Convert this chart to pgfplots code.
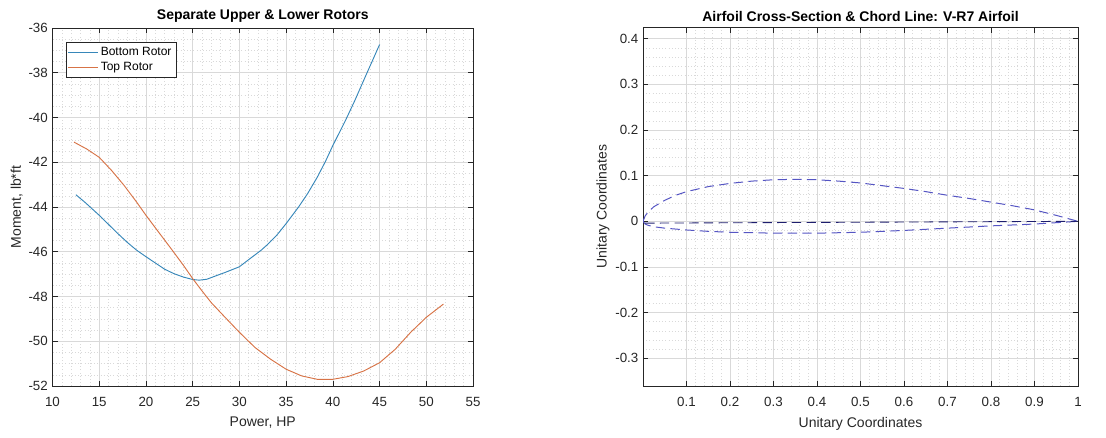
\documentclass[border=0pt]{standalone}
\usepackage{pgfplots}
\pgfplotsset{compat=1.18}
\usepackage{fontspec}
\setmainfont{Liberation Sans}
\definecolor{mblue}{RGB}{55,135,185}
\definecolor{morange}{RGB}{215,115,70}
\definecolor{axgray}{RGB}{38,38,38}
\definecolor{airblue}{RGB}{85,85,195}
\definecolor{chordcol}{RGB}{30,30,110}
\begin{document}
\begin{tikzpicture}
\useasboundingbox (0pt,0pt) rectangle (829.5pt,327.75pt);
\pgfplotsset{mstyle/.style={
  scale only axis,
  axis line style={axgray, line width=0.5pt},
  tick align=inside,
  major tick length=4pt, minor tick length=0pt,
  grid=both,
  major grid style={black!15, line width=0.4pt},
  minor grid style={black!15, dotted, line width=0.4pt},
  tick label style={font=\fontsize{10}{12}\selectfont, text=axgray},
  x tick label style={yshift=-5pt},
  label style={font=\fontsize{10.5}{12}\selectfont, text=axgray},
  xlabel style={yshift=-1pt},
  ylabel style={yshift=-2.5pt},
  title style={font=\bfseries\fontsize{10.5}{12}\selectfont, yshift=-5pt},
  /pgf/number format/assume math mode=true,
  tick style={axgray, line width=0.5pt},
}}
\begin{axis}[mstyle,
  at={(39.375pt,38.25pt)}, anchor=south west,
  width=315.4pt, height=268.5pt,
  xmin=10, xmax=55, ymin=-52, ymax=-36,
  xtick={10,15,20,25,30,35,40,45,50,55},
  ytick={-52,-50,-48,-46,-44,-42,-40,-38,-36},
  minor x tick num=4, minor y tick num=3,
  xlabel={Power, HP}, ylabel={Moment, lb*ft},
  title={Separate Upper \& Lower Rotors},
  legend style={at={(0.031,0.961)}, anchor=north west, font=\fontsize{9}{11}\selectfont,
    draw=axgray, line width=0.5pt, inner sep=1.5pt, row sep=0pt},
  legend cell align=left,
  legend image code/.code={\draw[#1] (0pt,0pt) -- (22pt,0pt);},
]
\addplot[mblue, line width=0.7pt] coordinates {
(12.5,-43.45) (13.5,-43.8) (15,-44.37) (16,-44.78) (17,-45.19) (18,-45.58) (19,-45.93)
(20,-46.22) (21,-46.5) (22,-46.78) (23,-46.98) (24,-47.13) (25,-47.24) (25.7,-47.27)
(26.5,-47.23) (27.33,-47.1) (28.5,-46.92) (30,-46.67) (31,-46.35) (32.33,-45.93)
(33,-45.68) (34,-45.26) (35,-44.74) (36.33,-44.0) (37.3,-43.4) (38.33,-42.67)
(39.2,-41.97) (40,-41.25) (41.33,-40.15) (42.33,-39.26) (43.5,-38.15) (44.3,-37.4) (45,-36.74)
};
\addlegendentry{Bottom Rotor}
\addplot[morange, line width=0.7pt] coordinates {
(12.3,-41.1) (13.67,-41.41) (15,-41.78) (16.33,-42.37) (17.67,-43.04) (19,-43.78)
(20,-44.37) (21.33,-45.11) (22.67,-45.85) (24,-46.6) (25,-47.2) (26,-47.75) (27,-48.28)
(28.33,-48.87) (30,-49.6) (31.67,-50.28) (33.33,-50.8) (35,-51.25) (36.67,-51.55)
(38.33,-51.7) (40,-51.7) (41.6,-51.58) (43.3,-51.33) (45,-50.96) (46.67,-50.36)
(48.33,-49.6) (50,-48.93) (51.83,-48.34)
};
\addlegendentry{Top Rotor}
\end{axis}
\begin{axis}[mstyle,
  at={(482.25pt,38.25pt)}, anchor=south west,
  width=326.25pt, height=268.9pt,
  xmin=0, xmax=1, ymin=-0.3607, ymax=0.4245,
  xtick={0.1,0.2,0.3,0.4,0.5,0.6,0.7,0.8,0.9,1},
  xticklabels={0.1,0.2,0.3,0.4,0.5,0.6,0.7,0.8,0.9,1},
  ytick={-0.3,-0.2,-0.1,0,0.1,0.2,0.3,0.4},
  yticklabels={-0.3,-0.2,-0.1,0,0.1,0.2,0.3,0.4},
  minor x tick num=4, minor y tick num=4,
  xlabel={Unitary Coordinates}, ylabel={Unitary Coordinates},
  title={Airfoil Cross-Section \& Chord Line: V-R7 Airfoil},
]
\addplot[airblue, line width=0.75pt, dash pattern=on 7pt off 4pt] coordinates {
(0,0) (0.005,0.012) (0.0125,0.021) (0.025,0.032) (0.05,0.046) (0.075,0.057) (0.1,0.065)
(0.15,0.076) (0.2,0.083) (0.25,0.088) (0.3,0.091) (0.35,0.092) (0.4,0.091) (0.45,0.088)
(0.5,0.084) (0.55,0.078) (0.6,0.072) (0.65,0.065) (0.7,0.057) (0.75,0.05) (0.8,0.042)
(0.85,0.034) (0.9,0.025) (0.95,0.013) (1,0)
};
\addplot[airblue, line width=0.75pt, dash pattern=on 7pt off 4pt] coordinates {
(0,0) (0.005,-0.006) (0.0125,-0.009) (0.025,-0.012) (0.05,-0.015) (0.1,-0.019)
(0.15,-0.022) (0.2,-0.024) (0.3,-0.026) (0.4,-0.026) (0.5,-0.024) (0.6,-0.02)
(0.7,-0.015) (0.8,-0.01) (0.9,-0.006) (0.95,-0.003) (1,0)
};
\addplot[chordcol, line width=0.65pt, dash pattern=on 7pt off 4pt] coordinates {
(0.005,-0.004) (1,0)
};
\end{axis}
\end{tikzpicture}
\end{document}
